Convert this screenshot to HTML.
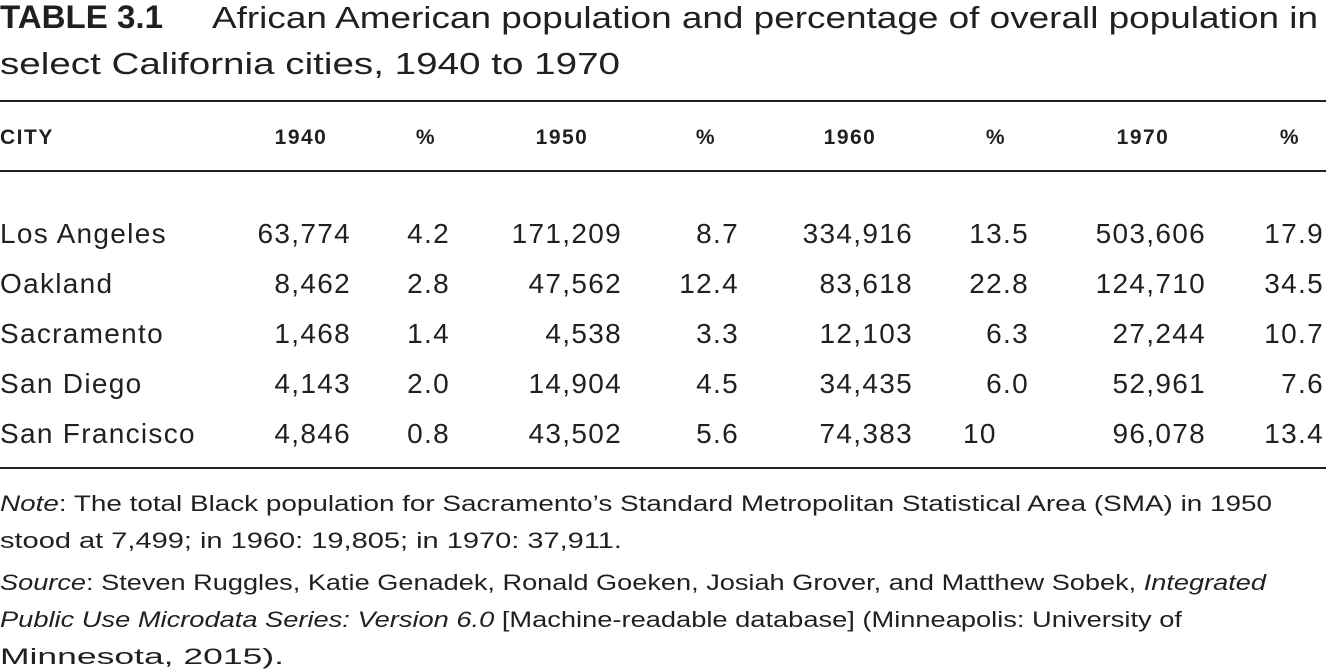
<!DOCTYPE html>
<html><head><meta charset="utf-8"><style>
html,body{margin:0;padding:0;background:#fff;}
svg{display:block;}
text{font-family:"Liberation Sans",sans-serif;fill:#231f20;}
</style></head><body>
<svg width="1326" height="672" viewBox="0 0 1326 672" xmlns="http://www.w3.org/2000/svg">
<text x="0" y="28" font-size="32" font-weight="bold" textLength="163" lengthAdjust="spacingAndGlyphs">TABLE 3.1</text>
<text x="212" y="28" font-size="31" textLength="1106" lengthAdjust="spacingAndGlyphs">African American population and percentage of overall population in</text>
<text x="0" y="74" font-size="31" textLength="620" lengthAdjust="spacingAndGlyphs">select California cities, 1940 to 1970</text>
<rect x="0" y="100" width="1326" height="2" fill="#231f20"/>
<g font-size="21" font-weight="bold" letter-spacing="1.5">
<text x="0" y="144">CITY</text>
<text x="301" y="144" text-anchor="middle">1940</text>
<text x="426" y="144" text-anchor="middle">%</text>
<text x="562" y="144" text-anchor="middle">1950</text>
<text x="706" y="144" text-anchor="middle">%</text>
<text x="850" y="144" text-anchor="middle">1960</text>
<text x="996" y="144" text-anchor="middle">%</text>
<text x="1143" y="144" text-anchor="middle">1970</text>
<text x="1290" y="144" text-anchor="middle">%</text>
</g>
<rect x="0" y="170" width="1326" height="2" fill="#231f20"/>
<g font-size="28" letter-spacing="1.3">
<g transform="translate(0,243)">
<text x="0">Los Angeles</text><text x="351" text-anchor="end">63,774</text><text x="450" text-anchor="end">4.2</text><text x="622" text-anchor="end">171,209</text><text x="739" text-anchor="end">8.7</text><text x="913" text-anchor="end">334,916</text><text x="1029" text-anchor="end">13.5</text><text x="1206" text-anchor="end">503,606</text><text x="1324" text-anchor="end">17.9</text></g>
<g transform="translate(0,293)">
<text x="0">Oakland</text><text x="351" text-anchor="end">8,462</text><text x="450" text-anchor="end">2.8</text><text x="622" text-anchor="end">47,562</text><text x="739" text-anchor="end">12.4</text><text x="913" text-anchor="end">83,618</text><text x="1029" text-anchor="end">22.8</text><text x="1206" text-anchor="end">124,710</text><text x="1324" text-anchor="end">34.5</text></g>
<g transform="translate(0,343)">
<text x="0">Sacramento</text><text x="351" text-anchor="end">1,468</text><text x="450" text-anchor="end">1.4</text><text x="622" text-anchor="end">4,538</text><text x="739" text-anchor="end">3.3</text><text x="913" text-anchor="end">12,103</text><text x="1029" text-anchor="end">6.3</text><text x="1206" text-anchor="end">27,244</text><text x="1324" text-anchor="end">10.7</text></g>
<g transform="translate(0,393)">
<text x="0">San Diego</text><text x="351" text-anchor="end">4,143</text><text x="450" text-anchor="end">2.0</text><text x="622" text-anchor="end">14,904</text><text x="739" text-anchor="end">4.5</text><text x="913" text-anchor="end">34,435</text><text x="1029" text-anchor="end">6.0</text><text x="1206" text-anchor="end">52,961</text><text x="1324" text-anchor="end">7.6</text></g>
<g transform="translate(0,443)">
<text x="0">San Francisco</text><text x="351" text-anchor="end">4,846</text><text x="450" text-anchor="end">0.8</text><text x="622" text-anchor="end">43,502</text><text x="739" text-anchor="end">5.6</text><text x="913" text-anchor="end">74,383</text><text x="963">10</text><text x="1206" text-anchor="end">96,078</text><text x="1324" text-anchor="end">13.4</text></g>
</g>
<rect x="0" y="467" width="1326" height="2" fill="#231f20"/>
<g font-size="22">
<text x="0" y="511" textLength="1272" lengthAdjust="spacingAndGlyphs"><tspan font-style="italic">Note</tspan>: The total Black population for Sacramento’s Standard Metropolitan Statistical Area (SMA) in 1950</text>
<text x="0" y="548" textLength="622" lengthAdjust="spacingAndGlyphs">stood at 7,499; in 1960: 19,805; in 1970: 37,911.</text>
<text x="0" y="590" textLength="1266" lengthAdjust="spacingAndGlyphs"><tspan font-style="italic">Source</tspan>: Steven Ruggles, Katie Genadek, Ronald Goeken, Josiah Grover, and Matthew Sobek, <tspan font-style="italic">Integrated</tspan></text>
<text x="0" y="627" textLength="1182" lengthAdjust="spacingAndGlyphs"><tspan font-style="italic">Public Use Microdata Series: Version 6.0</tspan> [Machine-readable database] (Minneapolis: University of</text>
<text x="0" y="664" textLength="284" lengthAdjust="spacingAndGlyphs">Minnesota, 2015).</text>
</g>
</svg>
</body></html>
